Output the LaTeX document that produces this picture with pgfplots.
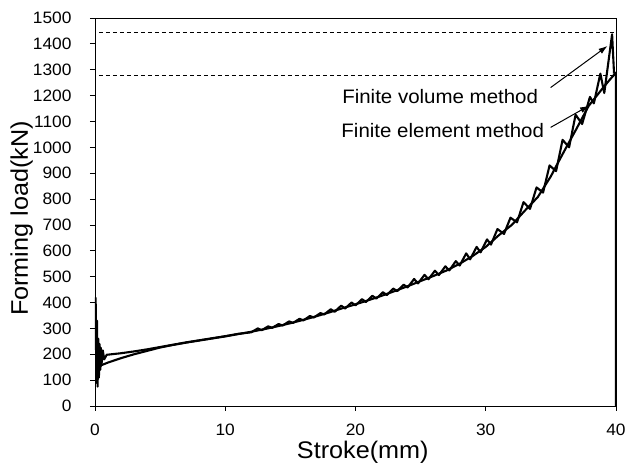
\documentclass[border=0pt]{standalone}
\usepackage{fontspec}
\setmainfont[FakeStretch=1.05]{Liberation Sans}
\usepackage{pgfplots}
\pgfplotsset{compat=1.18}
\usetikzlibrary{arrows.meta}

\begin{document}
\begin{tikzpicture}
\begin{axis}[
  at={(0,0)}, anchor=south west,
  width=521pt, height=388pt, scale only axis,
  xmin=0, xmax=40, ymin=0, ymax=1500,
  xtick={0,10,...,40},
  ytick={0,100,...,1500},
  tick pos=left,
  tick align=outside,
  major tick length=5pt,
  tick style={black, line width=0.8pt},
  axis line style={line width=0.9pt},
  tick label style={font=\fontsize{16.5}{18}\selectfont},
  yticklabel style={xshift=-15pt},
  xticklabel style={yshift=-9pt},
  /pgf/number format/assume math mode=true,
  /pgf/number format/set thousands separator={},
  scaled ticks=false,
  xlabel={Stroke(mm)},
  ylabel={Forming load(kN)},
  xlabel style={font=\fontsize{24}{26}\selectfont, at={(axis description cs:0.514,0)},
    anchor=north, inner sep=0pt, yshift=-35pt},
  ylabel style={font=\fontsize{24}{26}\selectfont, at={(axis description cs:-0.119,0.483)},
    anchor=south, inner sep=0pt},
]

% dashed reference levels
\addplot[black, line width=0.9pt, dash pattern=on 4pt off 3pt] coordinates {(0.3,1444) (40,1444)};
\addplot[black, line width=0.9pt, dash pattern=on 4pt off 3pt] coordinates {(0.3,1279) (40,1279)};

% finite element method
\addplot[black, line width=2.1pt, line join=round] coordinates {
(0.2,140) (0.5,158) (1,168) (2,185) (3,200) (4,213) (5,226) (6,236) (7,245)
(8,253) (9,261) (10,269) (11,278) (12,287) (13,297) (14,308) (15,320)
(16,333) (17,347) (18,362) (19,378) (20,393) (21,409) (22,426) (23,444)
(24,463) (25,483) (26,503) (27,524) (28,550) (29,580) (30,615) (31,660)
(32,700) (33,755) (34,808) (35,888) (35.5,936) (36,983) (37,1075)
(37.9,1160) (38.5,1198) (39,1230) (39.5,1260) (40,1289) (40,0)
};

% finite volume method
\addplot[black, line width=2.1pt, line join=round] coordinates {
(0.05,420) (0.1,90) (0.15,330) (0.2,75) (0.25,260) (0.3,110) (0.35,240)
(0.4,140) (0.45,225) (0.5,160) (0.6,215) (0.7,180) (0.9,198) (2,204)
(3,211) (4,219) (5,228) (6,237) (7,246) (8,254) (9,262) (10,270) (11,279)
(12.0,285) (12.5,300) (12.8,293) (13.3,308) (13.6,302) (14.1,317)
(14.4,311) (14.9,327) (15.2,321) (15.7,337) (16.0,331) (16.5,348)
(16.8,342) (17.3,359) (17.6,354) (18.1,374) (18.4,364) (18.9,388)
(19.2,377) (19.7,400) (20.0,389) (20.5,413) (20.8,402) (21.3,426)
(21.6,415) (22.1,440) (22.4,429) (22.9,454) (23.2,444) (23.7,469)
(24.0,458) (24.5,491) (24.8,474) (25.3,507) (25.6,490) (26.1,523)
(26.4,506) (26.9,540) (27.2,524) (27.7,560) (28.0,543) (28.5,590)
(28.8,567) (29.3,615) (29.6,594) (30.1,644) (30.4,624) (30.9,684)
(31.4,665) (31.9,728) (32.4,710) (32.9,788) (33.4,762) (33.9,845)
(34.4,825) (34.9,930) (35.4,908) (35.9,1029) (36.4,1000) (36.9,1126)
(37.4,1090) (38.0,1195) (38.3,1170) (38.8,1285) (39.1,1210) (39.7,1437)
(39.85,1285)
};

\node[font=\fontsize{19.5}{22}\selectfont, inner sep=0pt] at (axis cs:26.5,1196) {Finite volume method};
\node[font=\fontsize{19.5}{22}\selectfont, inner sep=0pt] at (axis cs:26.7,1064) {Finite element method};
\draw[-{Latex[length=9pt,width=6pt]}, line width=1pt] (axis cs:34.98,1231) -- (axis cs:39.35,1392);
\draw[-{Latex[length=9pt,width=6pt]}, line width=1pt] (axis cs:34.98,1077) -- (axis cs:37.93,1161);

\end{axis}
\pgfresetboundingbox
\path[use as bounding box] (-95pt,-64pt) rectangle (535pt,406pt);
\end{tikzpicture}
\end{document}
